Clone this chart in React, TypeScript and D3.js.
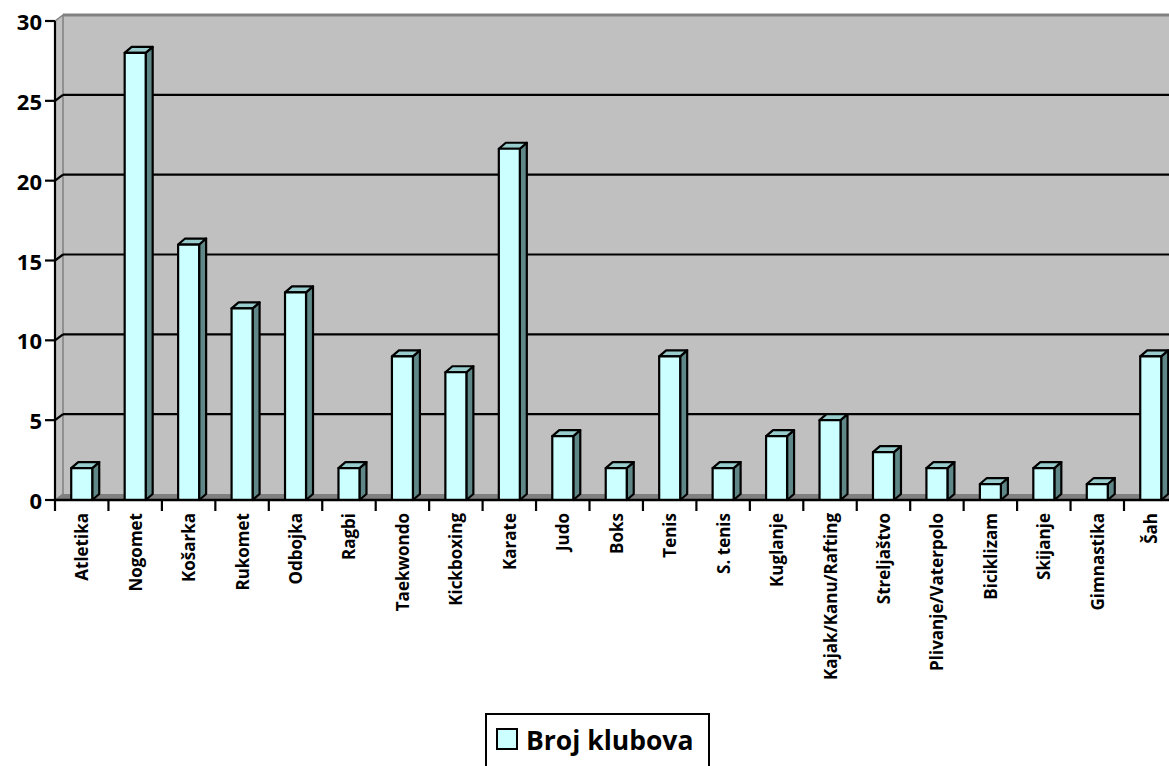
import React from "react";
import * as d3 from "d3";

const categories = [
  "Atletika", "Nogomet", "Košarka", "Rukomet", "Odbojka", "Ragbi", "Taekwondo",
  "Kickboxing", "Karate", "Judo", "Boks", "Tenis", "S. tenis", "Kuglanje",
  "Kajak/Kanu/Rafting", "Streljaštvo", "Plivanje/Vaterpolo", "Biciklizam",
  "Skijanje", "Gimnastika", "Šah",
];
const values = [2, 28, 16, 12, 13, 2, 9, 8, 22, 4, 2, 9, 2, 4, 5, 3, 2, 1, 2, 1, 9];
const yTicks = [0, 5, 10, 15, 20, 25, 30];
const seriesName = "Broj klubova";

const W = 1169;
const H = 766;
const FONT = "'Open Sans', Lato, sans-serif";

export default function App() {
  const x0 = 55;
  const step = 53.45;
  const x = d3
    .scaleBand<string>()
    .domain(categories)
    .range([x0, x0 + step * categories.length])
    .paddingInner(0)
    .paddingOuter(0);
  const y = d3.scaleLinear().domain([0, 30]).range([500, 21]);
  const dx = 8;
  const dy = -6;
  const bdx = 7;
  const bdy = -6;
  const right = x0 + step * categories.length + 10;
  const barW = 21;

  return (
    <svg
      width={W}
      height={H}
      style={{ position: "absolute", left: 0, top: 0, background: "#fff" }}
    >
      {/* back wall */}
      <rect x={x0 + dx} y={y(30) + dy} width={right - x0 - dx} height={y(0) - y(30)} fill="#C0C0C0" />
      {/* left wall */}
      <polygon
        points={`${x0},${y(30)} ${x0 + dx},${y(30) + dy} ${x0 + dx},${y(0) + dy} ${x0},${y(0)}`}
        fill="#C0C0C0"
        stroke="#808080"
        strokeWidth={1.5}
      />
      {/* floor */}
      <polygon
        points={`${x0},${y(0)} ${x0 + dx},${y(0) + dy} ${right},${y(0) + dy} ${right},${y(0)}`}
        fill="#808080"
      />
      {/* top border */}
      <line x1={x0 + dx} x2={right} y1={y(30) + dy} y2={y(30) + dy} stroke="#808080" strokeWidth={3} />
      {/* gridlines */}
      {yTicks.filter((t) => t > 0 && t < 30).map((t) => (
        <g key={t}>
          <line x1={x0} y1={y(t)} x2={x0 + dx} y2={y(t) + dy} stroke="#000" strokeWidth={2.2} />
          <line x1={x0 + dx} y1={y(t) + dy} x2={right} y2={y(t) + dy} stroke="#000" strokeWidth={2.2} />
        </g>
      ))}
      {/* bars */}
      {categories.map((c, i) => {
        const cx = (x(c) as number) + x.bandwidth() / 2;
        const l = cx - barW / 2;
        const r = cx + barW / 2;
        const top = y(values[i]);
        const bot = y(0);
        return (
          <g key={c} stroke="#000" strokeWidth={2.2} strokeLinejoin="round">
            <polygon
              points={`${r},${top} ${r + bdx},${top + bdy} ${r + bdx},${bot + bdy} ${r},${bot}`}
              fill="#5F8787"
            />
            <polygon
              points={`${l},${top} ${l + bdx},${top + bdy} ${r + bdx},${top + bdy} ${r},${top}`}
              fill="#99CCCC"
            />
            <rect x={l} y={top} width={barW} height={bot - top} fill="#CCFFFF" />
          </g>
        );
      })}
      {/* y axis */}
      <line x1={x0} x2={x0} y1={y(30)} y2={y(0)} stroke="#000" strokeWidth={2.2} />
      {yTicks.map((t) => (
        <g key={t}>
          <line x1={x0 - 10} x2={x0} y1={y(t)} y2={y(t)} stroke="#000" strokeWidth={2.2} />
          <text
            x={x0 - 13}
            y={y(t)}
            textAnchor="end"
            dominantBaseline="central"
            fontFamily={FONT}
            fontWeight="bold"
            fontSize={22}
            fill="#000"
          >
            {t}
          </text>
        </g>
      ))}
      {/* x axis */}
      <line x1={x0} x2={right} y1={y(0)} y2={y(0)} stroke="#000" strokeWidth={2.5} />
      {categories.map((c) => (
        <line
          key={c}
          x1={x(c) as number}
          x2={x(c) as number}
          y1={y(0)}
          y2={y(0) + 11}
          stroke="#000"
          strokeWidth={2.2}
        />
      ))}
      {categories.map((c) => {
        const cx = (x(c) as number) + x.bandwidth() / 2;
        return (
          <text
            key={c}
            transform={`translate(${cx},${513}) rotate(-90)`}
            textAnchor="end"
            dominantBaseline="central"
            fontFamily={FONT}
            fontWeight="bold"
            fontSize={17}
            fill="#000"
          >
            {c}
          </text>
        );
      })}
      {/* legend */}
      <rect x={486} y={714} width={223} height={70} fill="#fff" stroke="#000" strokeWidth={2} />
      <rect x={497} y={729} width={20} height={20} fill="#CCFFFF" stroke="#000" strokeWidth={2} />
      <text
        x={526}
        y={740}
        dominantBaseline="central"
        fontFamily={FONT}
        fontWeight="bold"
        fontSize={26.5}
        fill="#000"
      >
        {seriesName}
      </text>
    </svg>
  );
}
